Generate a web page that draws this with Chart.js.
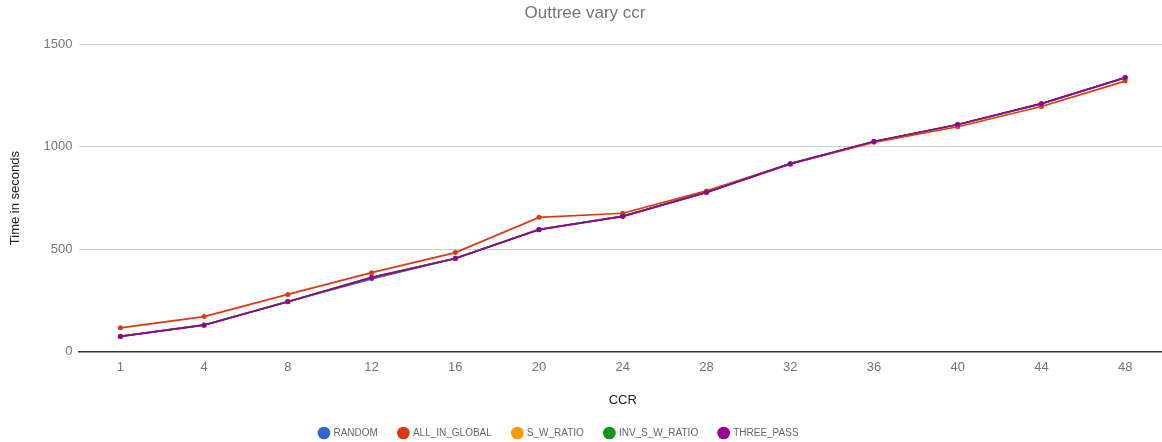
<!DOCTYPE html>
<html>
<head>
<meta charset="utf-8">
<script src="https://cdn.jsdelivr.net/npm/chart.js@4.4.1/dist/chart.umd.min.js"></script>
<style>
  html, body { margin: 0; padding: 0; background: #fff; overflow: hidden; }
  #wrap { position: relative; width: 1170px; height: 442px; }
</style>
</head>
<body>
<div id="wrap"><canvas id="chart"></canvas></div>
<script>
// CCR values on the x axis
const categories = ['1', '4', '8', '12', '16', '20', '24', '28', '32', '36', '40', '44', '48'];

// Run time (seconds) per heuristic
const randomTimes      = [76, 131, 245, 356, 456, 598, 661, 779, 918, 1026, 1108, 1210, 1337];
const allInGlobalTimes = [117, 172, 280, 386, 484, 656, 676, 785, 917, 1022, 1098, 1197, 1321];
const sWRatioTimes     = [75, 130, 244, 364, 455, 596, 661, 778, 917, 1025, 1108, 1211, 1338];
const invSWRatioTimes  = [75, 131, 245, 363, 456, 597, 662, 778, 918, 1026, 1109, 1211, 1337];
const threePassTimes   = [75, 130, 244, 362, 455, 596, 661, 778, 917, 1026, 1109, 1211, 1338];

const yTicks = [0, 500, 1000, 1500];

const seriesNames  = ['RANDOM', 'ALL_IN_GLOBAL', 'S_W_RATIO', 'INV_S_W_RATIO', 'THREE_PASS'];
const seriesColors = ['#3366cc', '#dc3912', '#ff9900', '#109618', '#990099'];
const seriesData   = [randomTimes, allInGlobalTimes, sWRatioTimes, invSWRatioTimes, threePassTimes];

const FONT = "'Liberation Sans', Arial, sans-serif";

// later series are painted over earlier ones
const datasets = seriesNames.map((name, i) => ({
  label: name,
  data: seriesData[i],
  order: seriesNames.length - i,
  borderColor: seriesColors[i],
  backgroundColor: seriesColors[i],
  borderWidth: 1.7,
  pointRadius: 2.5,
  pointHoverRadius: 3,
  pointBorderWidth: 0,
  tension: 0,
  fill: false
}));

// nudge the legend row a little to the left of the canvas centre
const legendShift = {
  id: 'legendShift',
  afterLayout(chart) {
    const lg = chart.legend;
    if (lg) { lg.left -= 26; lg.right -= 26; }
  }
};

new Chart(document.getElementById('chart'), {
  type: 'line',
  data: { labels: categories, datasets },
  plugins: [legendShift],
  options: {
    responsive: true,
    maintainAspectRatio: false,
    animation: false,
    layout: { padding: { left: 0, right: 0, top: 0, bottom: -6 } },
    plugins: {
      title: {
        display: true,
        text: 'Outtree vary ccr',
        color: '#757575',
        font: { family: FONT, size: 17, weight: 'normal' },
        padding: { top: 3, bottom: 21 }
      },
      legend: {
        position: 'bottom',
        labels: {
          usePointStyle: true,
          pointStyle: 'circle',
          boxWidth: 9,
          boxHeight: 9,
          padding: 21,
          color: '#666666',
          font: { family: FONT, size: 10 },
          sort: (a, b) => a.datasetIndex - b.datasetIndex
        }
      },
      tooltip: { enabled: false }
    },
    scales: {
      x: {
        type: 'category',
        offset: true,
        grid: { display: false, drawTicks: false },
        border: { display: true, color: '#333333', width: 1.5 },
        ticks: {
          color: '#757575',
          font: { family: FONT, size: 13 },
          padding: 8
        },
        title: {
          display: true,
          text: 'CCR',
          color: '#222222',
          font: { family: FONT, size: 13 },
          padding: { top: 9, bottom: -1 }
        }
      },
      y: {
        min: 0,
        max: 1500,
        afterBuildTicks: (axis) => { axis.ticks = yTicks.map(v => ({ value: v })); },
        grid: {
          color: (ctx) => ctx.tick && ctx.tick.value === 0 ? 'rgba(0,0,0,0)' : '#cccccc',
          drawTicks: false,
          lineWidth: 1
        },
        border: { display: false },
        ticks: {
          color: '#757575',
          font: { family: FONT, size: 13 },
          padding: 6,
          callback: (v) => String(v)
        },
        title: {
          display: true,
          text: 'Time in seconds',
          color: '#222222',
          font: { family: FONT, size: 13 },
          padding: { top: 8, bottom: 14 }
        }
      }
    }
  }
});
</script>
</body>
</html>
